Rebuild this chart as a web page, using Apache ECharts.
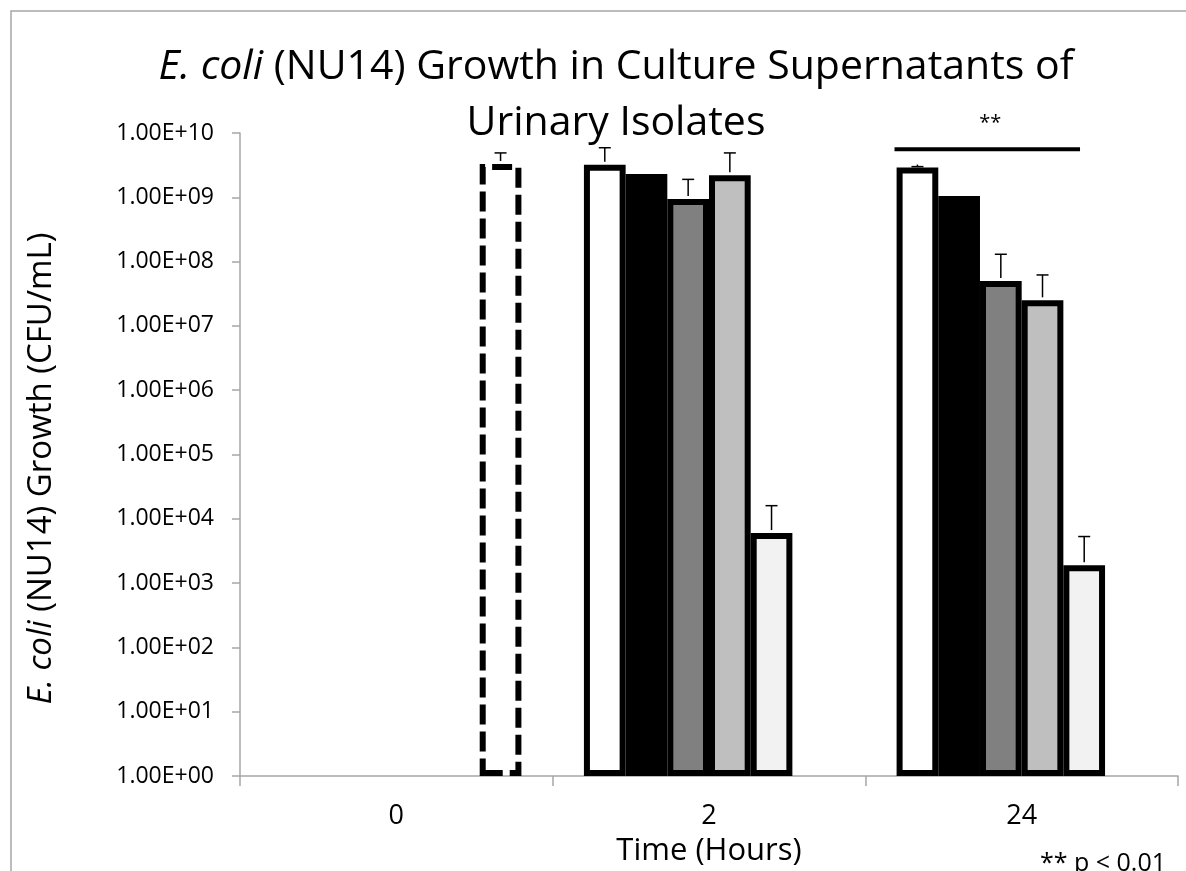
<!DOCTYPE html>
<html>
<head>
<meta charset="utf-8">
<script src="https://cdn.jsdelivr.net/npm/echarts@6/dist/echarts.min.js"></script>
<style>
html,body{margin:0;padding:0;background:#fff;}
#chart{width:1186px;height:871px;}
</style>
</head>
<body>
<div id="chart"></div>
<script>
// ---- data ----
var categories = ['0', '2', '24'];
var yTickLabels = ['1.00E+00','1.00E+01','1.00E+02','1.00E+03','1.00E+04','1.00E+05','1.00E+06','1.00E+07','1.00E+08','1.00E+09','1.00E+10'];
// five supernatant series (values at 0, 2, 24 h) and the 0 h inoculum series
var seriesA = [null, 3.2e9, 2.9e9];
var seriesB = [null, 2.3e9, 1.05e9];
var seriesC = [null, 9.4e8, 5.0e7];
var seriesD = [null, 2.2e9, 2.5e7];
var seriesE = [null, 6.0e3, 1.9e3];
var inoculum = [3.3e9, null, null];
// upper error (SD) for each series
var sdA = [null, 2.7e9, 0.1e9];
var sdB = [null, null, null];
var sdC = [null, 9.6e8, 8.0e7];
var sdD = [null, 2.7e9, 3.7e7];
var sdE = [null, 1.0e4, 3.4e3];
var sdInoculum = [1.6e9, null, null];
// significance bracket at 24 h
var sigCategory = 2;
var sigValue = 5.6e9;
var sigLabel = '**';

var fills = ['#ffffff', '#000000', '#808080', '#bfbfbf', '#f2f2f2'];
var means = [seriesA, seriesB, seriesC, seriesD, seriesE, inoculum];
var sds = [sdA, sdB, sdC, sdD, sdE, sdInoculum];
var NS = 6;
var GAP = 0.2;

var FONT = '"Open Sans", "Noto Sans", sans-serif';

var barSeries = [];
for (var s = 0; s < 5; s++) {
  barSeries.push({
    type: 'bar',
    data: means[s].map(function (v) { return v == null ? '-' : v; }),
    barGap: '0%',
    barCategoryGap: (GAP * 100) + '%',
    itemStyle: { color: fills[s], borderColor: '#000', borderWidth: 6 },
    emphasis: { disabled: true },
    silent: true
  });
}
barSeries.push({
  type: 'bar',
  data: inoculum.map(function (v) { return v == null ? '-' : v; }),
  barGap: '0%',
  barCategoryGap: (GAP * 100) + '%',
  itemStyle: { color: 'rgba(255,255,255,0)', borderColor: '#000', borderWidth: 6, borderType: [20, 7] },
  emphasis: { disabled: true },
  silent: true
});

// error bar data: [catIndex, mean, top, seriesIndex]
var errData = [];
for (var si = 0; si < NS; si++) {
  for (var c = 0; c < categories.length; c++) {
    if (means[si][c] != null && sds[si][c] != null) {
      errData.push([c, means[si][c], means[si][c] + sds[si][c], si]);
    }
  }
}

function slotX(api, cat, val, slot) {
  var center = api.coord([cat, val])[0];
  var catW = api.size([1, 1], [cat, val])[0];
  var bw = catW * (1 - GAP) / NS;
  return center - (NS / 2) * bw + slot * bw;
}

var option = {
  animation: false,
  backgroundColor: '#fff',
  title: {
    text: '{i|E. coli}{n| (NU14) Growth in Culture Supernatants of}\n{n|Urinary Isolates}',
    left: 611,
    top: 34,
    textAlign: 'center',
    textStyle: {
      fontFamily: FONT, fontSize: 41, fontWeight: 'normal', color: '#000', lineHeight: 56,
      rich: {
        i: { fontFamily: FONT, fontSize: 41, fontStyle: 'italic', color: '#000', lineHeight: 56 },
        n: { fontFamily: FONT, fontSize: 41, color: '#000', lineHeight: 56 }
      }
    }
  },
  grid: { left: 240, right: 8, top: 133, bottom: 95, containLabel: false, outerBoundsMode: 'none' },
  xAxis: {
    type: 'category',
    data: categories,
    name: 'Time (Hours)',
    nameLocation: 'middle',
    nameGap: 60,
    nameTextStyle: { fontFamily: FONT, fontSize: 31, color: '#000' },
    axisLine: { lineStyle: { color: '#a6a6a6', width: 1.5 } },
    axisTick: { show: true, length: 10, lineStyle: { color: '#a6a6a6', width: 1.5 }, alignWithLabel: false },
    axisLabel: { fontFamily: FONT, fontSize: 27, color: '#000', margin: 27 },
    splitLine: { show: false }
  },
  yAxis: {
    type: 'log',
    logBase: 10,
    min: 1,
    max: 1e10,
    interval: 1,
    name: '{i|E. coli}{n| (NU14) Growth (CFU/mL)}',
    nameLocation: 'middle',
    nameGap: 182,
    nameRotate: 90,
    nameTextStyle: {
      fontFamily: FONT, fontSize: 33, color: '#000',
      padding: [0, 28, 0, 0],
      rich: {
        i: { fontFamily: FONT, fontSize: 33, fontStyle: 'italic', color: '#000' },
        n: { fontFamily: FONT, fontSize: 33, color: '#000' }
      }
    },
    axisLine: { show: true, lineStyle: { color: '#a6a6a6', width: 1.5 } },
    axisTick: { show: true, length: 8, lineStyle: { color: '#a6a6a6', width: 1.5 } },
    axisLabel: {
      fontFamily: FONT, fontSize: 23, color: '#000', margin: 26,
      formatter: function (v) {
        var e = Math.round(Math.log10(v));
        return yTickLabels[e] || '';
      }
    },
    splitLine: { show: false }
  },
  graphic: [
    { type: 'rect', shape: { x: 11, y: 11, width: 1300, height: 1000 }, style: { fill: 'none', stroke: '#a6a6a6', lineWidth: 1.5 }, silent: true, z: -10 },
    { type: 'text', right: 20, bottom: -5, style: { text: '** p < 0.01', font: '25px ' + FONT, fill: '#000' }, silent: true }
  ],
  series: barSeries.concat([
    {
      type: 'custom',
      coordinateSystem: 'cartesian2d',
      data: errData,
      z: 10,
      silent: true,
      encode: { x: 0, y: 1 },
      renderItem: function (params, api) {
        var cat = api.value(0), mean = api.value(1), top = api.value(2), s = api.value(3);
        var x = slotX(api, cat, mean, s + 0.5);
        var y0 = api.coord([cat, mean])[1];
        var y1 = api.coord([cat, top])[1];
        return {
          type: 'group',
          children: [
            { type: 'line', shape: { x1: x, y1: y0 - 3, x2: x, y2: y1 }, style: { stroke: '#000', lineWidth: 1.5 } },
            { type: 'line', shape: { x1: x - 6, y1: y1, x2: x + 6, y2: y1 }, style: { stroke: '#000', lineWidth: 1.5 } }
          ]
        };
      }
    },
    {
      type: 'custom',
      coordinateSystem: 'cartesian2d',
      data: [[sigCategory, sigValue]],
      z: 10,
      silent: true,
      renderItem: function (params, api) {
        var cat = api.value(0), val = api.value(1);
        var xa = slotX(api, cat, val, -0.05);
        var xb = slotX(api, cat, val, 4.4);
        var y = api.coord([cat, val])[1];
        return {
          type: 'group',
          children: [
            { type: 'line', shape: { x1: xa, y1: y, x2: xb, y2: y }, style: { stroke: '#000', lineWidth: 4 } },
            { type: 'text', style: { text: sigLabel, x: (xa + xb) / 2 + 3, y: y - 26, textAlign: 'center', textVerticalAlign: 'middle', font: '20px ' + FONT, fill: '#000' } }
          ]
        };
      }
    }
  ])
};

var chart = echarts.init(document.getElementById('chart'));
chart.setOption(option);
</script>
</body>
</html>
